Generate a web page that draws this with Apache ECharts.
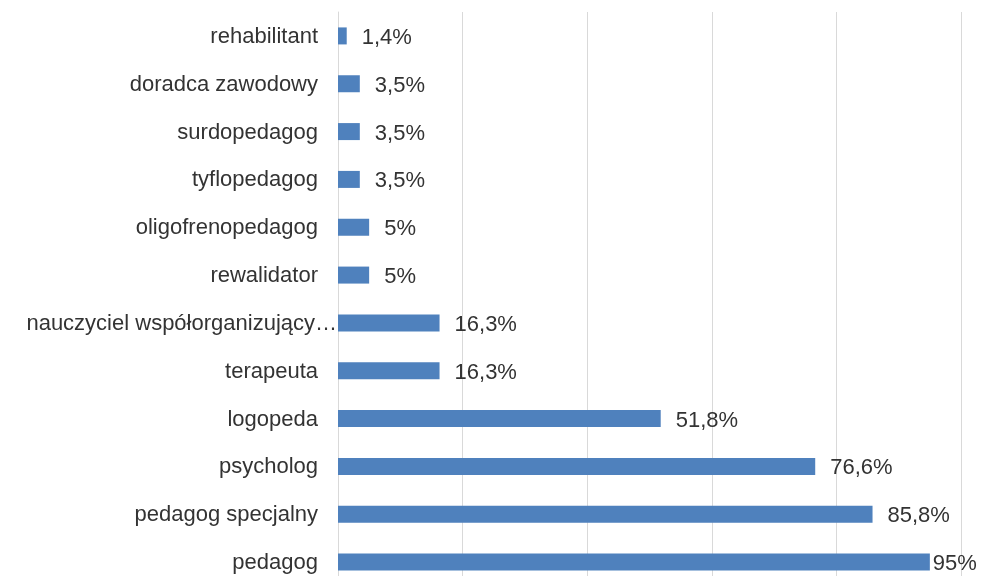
<!DOCTYPE html>
<html>
<head>
<meta charset="utf-8">
<script src="https://cdn.jsdelivr.net/npm/echarts@6/dist/echarts.min.js"></script>
<style>html,body{margin:0;padding:0;background:#fff;overflow:hidden;width:983px;height:576px}#c{width:983px;height:592px}</style>
</head>
<body>
<div id="c"></div>
<script>
var categories = ['rehabilitant','doradca zawodowy','surdopedagog','tyflopedagog','oligofrenopedagog','rewalidator','nauczyciel współorganizujący…','terapeuta','logopeda','psycholog','pedagog specjalny','pedagog'];
var values = [1.4, 3.5, 3.5, 3.5, 5, 5, 16.3, 16.3, 51.8, 76.6, 85.8, 95];
var xTicks = [0, 20, 40, 60, 80, 100];

var chart = echarts.init(document.getElementById('c'));
var seriesData = values.map(function (v) {
  var item = { value: v };
  if (v > 90) item.label = { distance: 3 };
  return item;
});
var font = 'Liberation Sans, Arial, sans-serif';
chart.setOption({
  animation: false,
  grid: { left: 338, right: 22, top: 12, bottom: 6, containLabel: false },
  xAxis: {
    type: 'value', min: xTicks[0], max: xTicks[xTicks.length - 1], interval: xTicks[1] - xTicks[0],
    axisLabel: { show: false }, axisLine: { show: false }, axisTick: { show: false },
    splitLine: { show: true, lineStyle: { color: '#D9D9D9', width: 1 } }
  },
  yAxis: {
    type: 'category', data: categories, inverse: true,
    axisLine: { show: true, lineStyle: { color: '#D9D9D9', width: 1 } },
    axisTick: { show: false },
    axisLabel: {
      margin: 0,
      formatter: function (s) { return s.indexOf('…') >= 0 ? '{w|' + s + '}' : '{n|' + s + '}'; },
      rich: {
        n: { fontFamily: font, fontSize: 22, color: '#333333', padding: [2, 20, 0, 0] },
        w: { fontFamily: font, fontSize: 22, color: '#333333', padding: [2, 1, 0, 0] }
      }
    }
  },
  series: [{
    type: 'bar', data: seriesData, barWidth: 17,
    itemStyle: { color: '#4F81BD' },
    label: {
      show: true, position: 'right', distance: 15, offset: [0, 2],
      fontFamily: font, fontSize: 22, color: '#333333',
      formatter: function (p) { return String(p.value).replace('.', ',') + '%'; }
    }
  }]
});
</script>
</body>
</html>
